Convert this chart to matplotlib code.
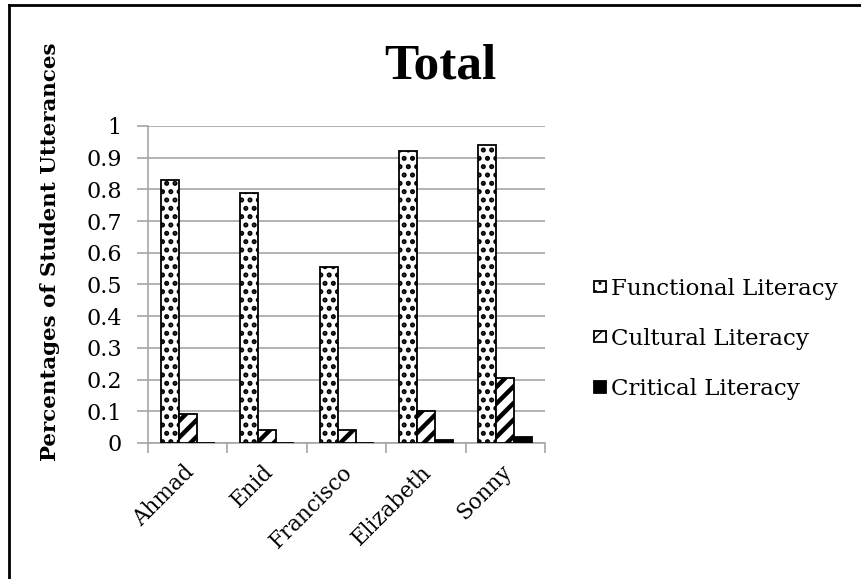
import matplotlib
matplotlib.use('Agg')
import matplotlib.pyplot as plt
import matplotlib.transforms as mtransforms
import numpy as np
from matplotlib.lines import Line2D

# Share of utterances per student, by literacy type
students = ['Ahmad', 'Enid', 'Francisco', 'Elizabeth', 'Sonny']
functional = [0.83, 0.79, 0.555, 0.92, 0.94]
cultural = [0.09, 0.04, 0.04, 0.10, 0.205]
critical = [0.0, 0.0, 0.0, 0.01, 0.02]
series_names = ['Functional Literacy', 'Cultural Literacy', 'Critical Literacy']
y_ticks = [0, 0.1, 0.2, 0.3, 0.4, 0.5, 0.6, 0.7, 0.8, 0.9, 1]
y_labels = ['0', '0.1', '0.2', '0.3', '0.4', '0.5', '0.6', '0.7', '0.8', '0.9', '1']

plt.rcParams['font.family'] = ['DejaVu Serif']
grid_gray = '#a6a6a6'

fig = plt.figure(figsize=(8.61, 5.79), dpi=100)
ax = fig.add_axes([0.172, 0.235, 0.461, 0.5475])

x = np.arange(len(students))
w = 0.227

with plt.rc_context({'hatch.linewidth': 2.4}):
    b1 = ax.bar(x - w, functional, w, color='white', edgecolor='black',
                linewidth=1.3, hatch='..', zorder=3)
with plt.rc_context({'hatch.linewidth': 3.2}):
    b2 = ax.bar(x, cultural, w, color='white', edgecolor='black',
                linewidth=1.3, hatch='//', zorder=3)
b3 = ax.bar(x + w, critical, w, color='black', edgecolor='black',
            linewidth=1.3, zorder=3)

ax.set_xlim(-0.5, len(students) - 0.5)
ax.set_ylim(0, 1)
ax.set_yticks(y_ticks)
ax.set_yticklabels(y_labels)
ax.yaxis.grid(True, color=grid_gray, linewidth=1.2, zorder=0)
ax.set_axisbelow(True)

ax.set_xticks(x)
ax.set_xticklabels(students, rotation=45, ha='right', rotation_mode='anchor')
ax.set_xticks(np.arange(len(students) + 1) - 0.5, minor=True)
ax.tick_params(axis='x', which='major', length=0, pad=13, labelsize=15.5)
ax.tick_params(axis='x', which='minor', length=7, color=grid_gray, width=1.2)
ax.tick_params(axis='y', length=8, color=grid_gray, width=1.2, pad=11, labelsize=16)

# nudge the slanted names a little to the left
shift = mtransforms.ScaledTranslation(-5 / 100, 0, fig.dpi_scale_trans)
for lbl in ax.get_xticklabels():
    lbl.set_transform(lbl.get_transform() + shift)

for side in ['top', 'right']:
    ax.spines[side].set_visible(False)
for side in ['left', 'bottom']:
    ax.spines[side].set_color(grid_gray)
    ax.spines[side].set_linewidth(1.2)

fig.text(0.058, 0.565, 'Percentages of Student Utterances',
         rotation=90, ha='center', va='center', fontsize=15.4, fontweight='bold')
fig.text(0.512, 0.886, 'Total', ha='center', va='center', fontsize=37,
         fontweight='bold', family='Liberation Serif')

ax.legend([b1, b2, b3], series_names, loc='center left',
          bbox_to_anchor=(0.684, 0.4145), bbox_transform=fig.transFigure,
          frameon=False, fontsize=16.5, handlelength=0.55, handleheight=0.38,
          handletextpad=0.2, labelspacing=1.23, borderaxespad=0, borderpad=0.2)

# outer frame: top and left edges only
fig.add_artist(Line2D([0.0105, 1.0], [0.992, 0.992], color='black', lw=2,
                      transform=fig.transFigure))
fig.add_artist(Line2D([0.0105, 0.0105], [0.0, 0.992], color='black', lw=2,
                      transform=fig.transFigure))

fig.savefig('out.png', dpi=100)
